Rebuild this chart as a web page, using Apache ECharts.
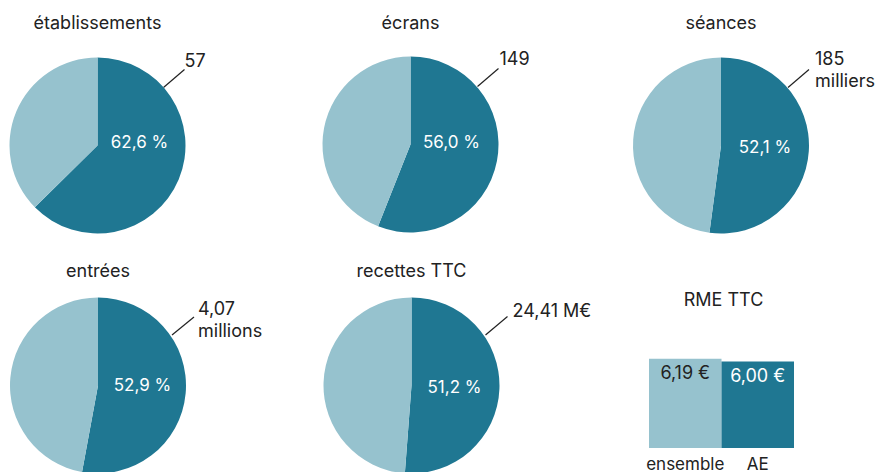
<!DOCTYPE html>
<html>
<head>
<meta charset="utf-8">
<script src="https://cdn.jsdelivr.net/npm/echarts@6/dist/echarts.min.js"></script>
<style>
html,body{margin:0;padding:0;background:#fff;}
#chart{width:881px;height:472px;}
</style>
</head>
<body>
<div id="chart"></div>
<script>
// ---- data ----
const pieTitles = ['établissements', 'écrans', 'séances', 'entrées', 'recettes TTC'];
const aeShares = [62.6, 56.0, 52.1, 52.9, 51.2];
const otherShares = [37.4, 44.0, 47.9, 47.1, 48.8];
const aeValueLabels = ['57', '149', '185\nmilliers', '4,07\nmillions', '24,41 M€'];
const rmeTitle = 'RME TTC';
const rmeCategories = ['ensemble', 'AE'];
const rmeValues = [6.19, 6.00];

// ---- layout / style ----
const FONT = 'Inter';
const DARK = '#1f7792';
const LIGHT = '#96c2ce';
const TEXT = '#222222';
const R = 88;
const centers = [[97.5, 145.5], [410.5, 144.5], [721, 145.5], [98, 385.5], [411.5, 385.5]];
const titleY = [13, 13, 13, 261, 261];
const innerOffsets = [[42, -3.5], [41, -2.5], [44, 1.5], [44.5, -1], [43, 1]];
const lineStart = [[66, -58], [67, -58], [67, -58], [74, -50.5], [74, -50.5]];
const lineEnd = [[87, -76], [88, -76], [88, -76], [96, -68.5], [96, -69]];
const valueShift = [[0, -9], [1, -10], [6, 0], [4, 2.5], [5, -6]];

const fmtPct = v => v.toFixed(1).replace('.', ',') + ' %';
const fmtEur = v => v.toFixed(2).replace('.', ',') + ' €';

const titles = pieTitles.map((t, i) => ({
  text: t, left: centers[i][0], top: titleY[i], textAlign: 'center', padding: 0,
  textStyle: {fontFamily: FONT, fontSize: 18, fontWeight: 'normal', color: TEXT}
}));
titles.push({
  text: rmeTitle, left: 723.5, top: 290, textAlign: 'center', padding: 0,
  textStyle: {fontFamily: FONT, fontSize: 18, fontWeight: 'normal', color: TEXT}
});

const pieSeries = pieTitles.map((t, i) => {
  const c = centers[i];
  return {
    type: 'pie',
    name: t,
    center: c,
    radius: R,
    startAngle: 90,
    clockwise: true,
    avoidLabelOverlap: false,
    silent: true,
    itemStyle: {borderWidth: 0},
    data: [
      {
        value: aeShares[i], name: 'AE',
        itemStyle: {color: DARK},
        label: {show: true, position: 'inside', color: '#ffffff', fontSize: 17,
                fontFamily: FONT, formatter: p => fmtPct(p.value)},
        labelLine: {show: false}
      },
      {
        value: otherShares[i], name: 'autres',
        itemStyle: {color: LIGHT},
        label: {show: true, position: 'outside', color: TEXT, fontSize: 18,
                fontFamily: FONT, lineHeight: 22, formatter: () => aeValueLabels[i]},
        labelLine: {show: true, lineStyle: {color: TEXT, width: 1.2}}
      }
    ],
    labelLayout: function (p) {
      if (p.dataIndex === 0) {
        return {x: c[0] + innerOffsets[i][0], y: c[1] + innerOffsets[i][1],
                align: 'center', verticalAlign: 'middle'};
      }
      const s = [c[0] + lineStart[i][0], c[1] + lineStart[i][1]];
      const e = [c[0] + lineEnd[i][0], c[1] + lineEnd[i][1]];
      return {
        x: e[0] + valueShift[i][0], y: e[1] + valueShift[i][1],
        align: 'left', verticalAlign: 'middle',
        labelLinePoints: [s, e, e]
      };
    }
  };
});

const barColors = [LIGHT, DARK];
const barLabelColors = [TEXT, '#ffffff'];

const option = {
  animation: false,
  title: titles,
  grid: {left: 649, width: 145, top: 347, bottom: 24, containLabel: false},
  xAxis: {
    type: 'category', data: rmeCategories,
    axisLine: {show: false}, axisTick: {show: false},
    axisLabel: {color: TEXT, fontSize: 17, fontFamily: FONT, margin: 7, interval: 0}
  },
  yAxis: {type: 'value', min: 0, max: 7, show: false},
  series: pieSeries.concat([{
    type: 'bar',
    barCategoryGap: '0%',
    silent: true,
    data: rmeValues.map((v, k) => ({
      value: v,
      itemStyle: {color: barColors[k]},
      label: {color: barLabelColors[k]}
    })),
    label: {show: true, position: 'insideTop', distance: 5, fontSize: 18,
            fontFamily: FONT, formatter: p => fmtEur(p.value)}
  }])
};

const chart = echarts.init(document.getElementById('chart'), null, {renderer: 'svg'});
chart.setOption(option);
</script>
</body>
</html>
